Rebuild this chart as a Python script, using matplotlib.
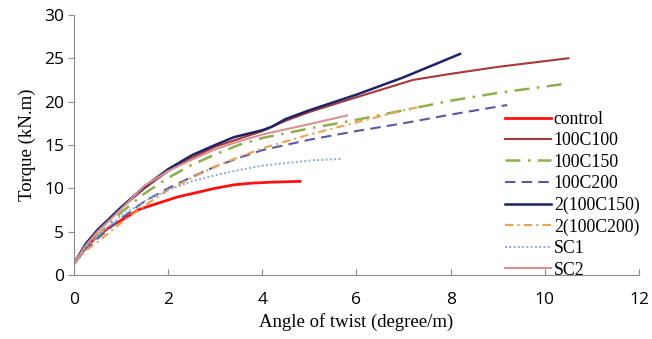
import matplotlib
matplotlib.use("Agg")
import matplotlib.pyplot as plt

# torque vs angle of twist
control_x = [0, 0.25, 0.5, 0.75, 1.0, 1.4, 1.8, 2.2, 2.6, 3.0, 3.4, 3.8, 4.2, 4.8]
control_y = [1.3, 3.2, 4.5, 5.5, 6.3, 7.6, 8.3, 9.0, 9.5, 10.0, 10.4, 10.6, 10.7, 10.8]

c100_x = [0, 0.25, 0.5, 1.0, 1.5, 2.0, 2.5, 3.0, 3.5, 4.0, 4.5, 5.0, 6.0, 7.2, 8.0, 9.0, 10.5]
c100_y = [1.3, 3.5, 5.0, 7.7, 10.0, 12.0, 13.5, 14.8, 15.7, 16.6, 17.8, 18.8, 20.5, 22.5, 23.2, 24.0, 25.0]

c150_x = [0, 0.25, 0.5, 1.0, 1.5, 2.0, 2.5, 3.0, 3.5, 4.0, 5.0, 6.0, 7.0, 8.0, 9.0, 10.5]
c150_y = [1.3, 3.2, 4.5, 7.2, 9.4, 11.2, 12.7, 13.9, 15.0, 15.8, 16.9, 17.9, 19.0, 20.1, 21.0, 22.1]

c200_x = [0, 0.25, 0.5, 1.0, 1.5, 2.0, 2.5, 3.0, 3.5, 4.0, 5.0, 6.0, 7.0, 8.0, 9.2]
c200_y = [1.3, 3.0, 4.2, 6.5, 8.5, 10.0, 11.3, 12.5, 13.5, 14.4, 15.6, 16.6, 17.5, 18.5, 19.6]

d150_x = [0, 0.25, 0.5, 1.0, 1.5, 2.0, 2.5, 3.0, 3.4, 4.0, 4.2, 4.5, 5.0, 6.0, 7.0, 8.2]
d150_y = [1.3, 3.6, 5.2, 7.8, 10.2, 12.2, 13.8, 15.0, 15.9, 16.7, 17.1, 18.0, 19.0, 20.8, 22.8, 25.5]

d200_x = [0, 0.25, 0.5, 1.0, 1.5, 2.0, 2.5, 3.0, 3.5, 4.0, 5.0, 6.0, 7.0, 7.5]
d200_y = [1.3, 2.8, 3.8, 6.0, 8.0, 9.8, 11.2, 12.5, 13.6, 14.6, 16.2, 17.6, 19.0, 19.6]

sc1_x = [0, 0.25, 0.5, 1.0, 1.5, 2.0, 2.5, 3.0, 3.5, 4.0, 5.0, 5.7]
sc1_y = [1.3, 3.2, 4.5, 6.8, 8.5, 9.8, 10.8, 11.5, 12.1, 12.6, 13.2, 13.4]

sc2_x = [0, 0.25, 0.5, 1.0, 1.5, 2.0, 2.5, 3.0, 3.5, 4.0, 5.0, 5.8]
sc2_y = [1.3, 3.4, 5.0, 7.6, 10.3, 12.0, 13.3, 14.5, 15.4, 16.2, 17.4, 18.4]

labels = ["control", "100C100", "100C150", "100C200", "2(100C150)", "2(100C200)", "SC1", "SC2"]

fig = plt.figure(figsize=(6.52, 3.39), dpi=100)
ax = fig.add_axes([0.1135, 0.189, 0.8665, 0.767])

ax.plot(control_x, control_y, color="#ff1010", lw=2.0, label=labels[0])
ax.plot(c100_x, c100_y, color="#a8383a", lw=1.5, label=labels[1])
ax.plot(c150_x, c150_y, color="#8fae4e", lw=1.8, ls=(0, (6, 3, 1, 3)), label=labels[2])
ax.plot(c200_x, c200_y, color="#5a5aa0", lw=1.5, ls=(0, (5, 3)), label=labels[3])
ax.plot(d150_x, d150_y, color="#1c2366", lw=1.8, label=labels[4])
ax.plot(d200_x, d200_y, color="#f0a050", lw=1.5, ls=(0, (4, 2, 1, 2)), label=labels[5])
ax.plot(sc1_x, sc1_y, color="#8fa8dc", lw=1.4, ls=(0, (1, 1.2)), label=labels[6])
ax.plot(sc2_x, sc2_y, color="#d99090", lw=1.5, label=labels[7])

ax.set_xlim(0, 12)
ax.set_ylim(0, 30)
ax.set_xticks(range(0, 13, 2))
ax.set_yticks(range(0, 31, 5))
for s in ["top", "right"]:
    ax.spines[s].set_visible(False)
for s in ["left", "bottom"]:
    ax.spines[s].set_color("#8c8c8c")
ax.tick_params(axis="x", direction="in", length=4, color="#8c8c8c", labelsize=12.5, pad=12)
ax.tick_params(axis="y", direction="out", length=4, color="#8c8c8c", labelsize=12.5, pad=3)
for t in ax.get_xticklabels() + ax.get_yticklabels():
    t.set_family("Open Sans")

serif = "Liberation Serif"
ax.set_xlabel("Angle of twist (degree/m)", family=serif, fontsize=13.5, labelpad=4)
ax.set_ylabel("Torque (kN.m)", family=serif, fontsize=13.5, labelpad=6)

ax.legend(loc="lower right", bbox_to_anchor=(1.02, -0.055), frameon=False,
          prop={"family": serif, "size": 12.8}, handlelength=2.6,
          handletextpad=0.15, labelspacing=0.25, borderaxespad=0.2)

fig.savefig("out.png", dpi=100)
